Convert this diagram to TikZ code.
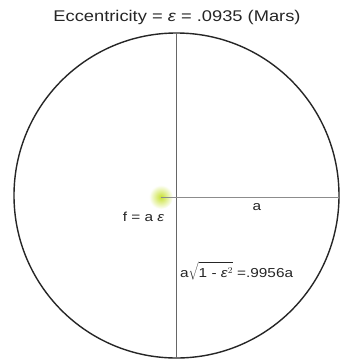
\documentclass[tikz,border=0pt]{standalone}
\usepackage{fontspec}
\setmainfont{Liberation Sans}
\newfontfamily\widesans[FakeStretch=1.18]{Liberation Sans}
\begin{document}
\begin{tikzpicture}[x=1pt,y=-1pt,
  orbit/.style={line width=1.4pt,black!85},
  axisline/.style={line width=0.8pt,black!60},
  lbl/.style={inner sep=0pt,font=\widesans\fontsize{13}{15}\selectfont,text=black!85},
  ttl/.style={inner sep=0pt,font=\widesans\fontsize{15.5}{18}\selectfont,text=black!85}]
\useasboundingbox[fill=white] (0,0) rectangle (340,360);
\coordinate (C) at (176.5,195.5);
\coordinate (F) at (161,197);
\coordinate (R) at (339,197);
\coordinate (T) at (176,33);
\coordinate (B) at (176,358);
\shade[inner color={rgb,255:red,200;green,225;blue,50},outer color=white] (F) circle (12);
\draw[orbit] (C) ellipse [x radius=162.5, y radius=162.5];
\draw[axisline] (T) -- (B);
\draw[axisline,black!45] (F) -- (R);
\node[ttl] (title) at (177,17) {Eccentricity = \textit{ε} = .0935 (Mars)};
\node[lbl] (fl) at (143.5,217) {f = a \textit{ε}};
\node[lbl] (al) at (257,207) {a};
\node[lbl,anchor=west] (bl) at (180,271) {a$\sqrt{\rule{0pt}{12pt}\mbox{1 - \textit{ε}$^{2}$}}$ =.9956a};
\end{tikzpicture}
\end{document}
